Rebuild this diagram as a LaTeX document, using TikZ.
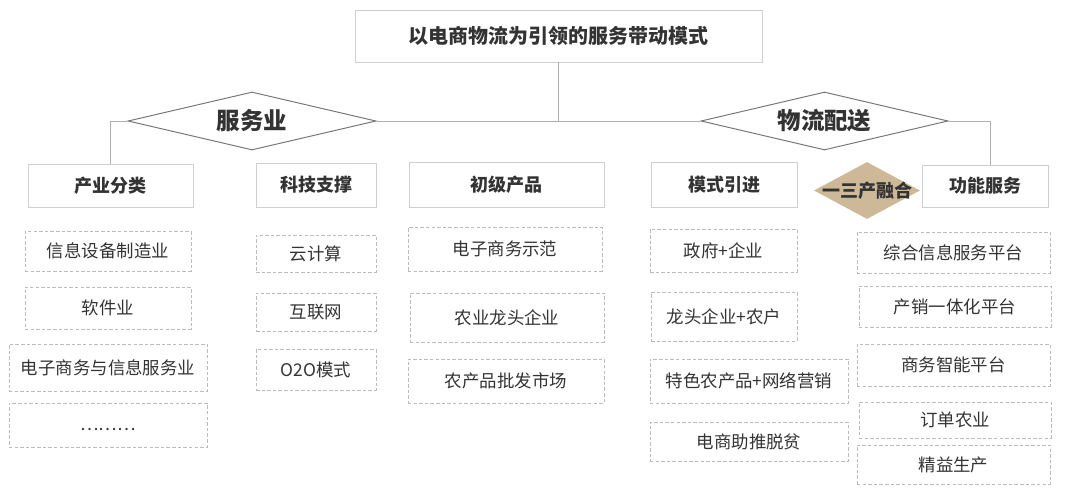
\documentclass[tikz,border=0pt]{standalone}
\usepackage{fontspec}
\setmainfont{Noto Sans CJK SC}
\usetikzlibrary{shapes.geometric}
\definecolor{mstext}{HTML}{333333}
\definecolor{msline}{HTML}{AFAFAF}
\definecolor{msbox}{HTML}{CFCFCF}
\definecolor{msdash}{HTML}{BBBBBB}
\definecolor{msedge}{HTML}{777777}
\definecolor{mstan}{HTML}{CDB898}

\begin{document}
\begin{tikzpicture}[x=0.025cm, y=-0.025cm, text=mstext,
    headbox/.style={draw=msbox, fill=white, inner sep=0pt, line width=0.6pt,
      font=\fontsize{12.8}{14}\selectfont\bfseries},
    itembox/.style={draw=msdash, dash pattern=on 2.5pt off 1.5pt, inner sep=0pt,
      line width=0.6pt, font=\fontsize{12.4}{14}\selectfont},
    hubdiamond/.style={diamond, aspect=4.3, draw=msedge, fill=white, inner sep=0pt, line width=0.7pt,
      minimum height=1.45cm, font=\fontsize{16.7}{18}\selectfont\bfseries},
    link/.style={draw=msline, line width=0.7pt}]
  \useasboundingbox (0,0) rectangle (1080,493);

  % title and the two hubs
  \node[headbox, font=\fontsize{14.2}{16}\selectfont\bfseries,
        minimum width=10.175cm, minimum height=1.3cm] (title) at (558.5,36) {以电商物流为引领的服务带动模式};
  \node[hubdiamond, minimum width=6.2cm] (fwy) at (252,121) {服务业};
  \node[hubdiamond, minimum width=6.175cm] (wlps) at (824.5,121) {物流配送};

  % second row
  \node[headbox, minimum width=4.125cm, minimum height=1.075cm] (cyfl) at (110.5,185.5) {产业分类};
  \node[headbox, minimum width=3cm, minimum height=1.1cm] (kjzc) at (316,185) {科技支撑};
  \node[headbox, minimum width=4.875cm, minimum height=1.125cm] (cjcp) at (506.5,184.5) {初级产品};
  \node[headbox, minimum width=3.65cm, minimum height=1.125cm] (msyj) at (724,184.5) {模式引进};
  \node[diamond, aspect=1.86, fill=mstan, inner sep=0pt, minimum width=2.65cm, minimum height=1.425cm,
        font=\fontsize{12.8}{14}\selectfont\bfseries] (ysrh) at (867,190.5) {\makebox[0pt]{一三产融合}};
  \node[headbox, minimum width=3.15cm, minimum height=1.05cm] (gnfw) at (985,186) {功能服务};

  % items under 产业分类
  \node[itembox, minimum width=4.15cm, minimum height=1cm] (c1a) at (108,251) {信息设备制造业};
  \node[itembox, minimum width=4.15cm, minimum height=1.05cm] (c1b) at (108,308) {软件业};
  \node[itembox, minimum width=4.95cm, minimum height=1.175cm] (c1c) at (108,367.5) {电子商务与信息服务业};
  \node[itembox, minimum width=4.95cm, minimum height=1.1cm] (c1d) at (108,425) {\raisebox{-1.2ex}{………}};

  % items under 科技支撑
  \node[itembox, minimum width=3cm, minimum height=0.925cm] (c2a) at (316,253.5) {云计算};
  \node[itembox, minimum width=3cm, minimum height=0.95cm] (c2b) at (316,312) {互联网};
  \node[itembox, minimum width=3cm, minimum height=1.025cm] (c2c) at (316,369.5) {O2O模式};

  % items under 初级产品
  \node[itembox, minimum width=4.85cm, minimum height=1.1cm] (c3a) at (505,249) {电子商务示范};
  \node[itembox, minimum width=4.85cm, minimum height=1.225cm] (c3b) at (507,317.5) {农业龙头企业};
  \node[itembox, minimum width=4.9cm, minimum height=1.1cm] (c3c) at (506,381) {农产品批发市场};

  % items under 模式引进
  \node[itembox, minimum width=3.675cm, minimum height=1.075cm] (c4a) at (723.5,250.5) {政府+企业};
  \node[itembox, minimum width=3.65cm, minimum height=1.225cm] (c4b) at (724,316.5) {龙头企业+农户};
  \node[itembox, minimum width=4.95cm, minimum height=1.1cm] (c4c) at (749,381) {特色农产品+网络营销};
  \node[itembox, minimum width=4.95cm, minimum height=0.975cm] (c4d) at (749,441.5) {电商助推脱贫};

  % items under 功能服务
  \node[itembox, minimum width=4.825cm, minimum height=1.025cm] (c5a) at (953.5,252.5) {综合信息服务平台};
  \node[itembox, minimum width=4.8cm, minimum height=1.025cm] (c5b) at (955,306.5) {产销一体化平台};
  \node[itembox, minimum width=4.825cm, minimum height=1.05cm] (c5c) at (953.5,365) {商务智能平台};
  \node[itembox, minimum width=4.8cm, minimum height=0.9cm] (c5d) at (955,420) {订单农业};
  \node[itembox, minimum width=4.825cm, minimum height=0.975cm] (c5e) at (953.5,464.5) {精益生产};

  % connectors
  \draw[link] (title.south) -- (title.south |- fwy.east);
  \draw[link] (fwy.east) -- (wlps.west);
  \draw[link] (fwy.west) -| (cyfl.north);
  \draw[link] (wlps.east) -| ([xshift=4]gnfw.north);
\end{tikzpicture}
\end{document}
